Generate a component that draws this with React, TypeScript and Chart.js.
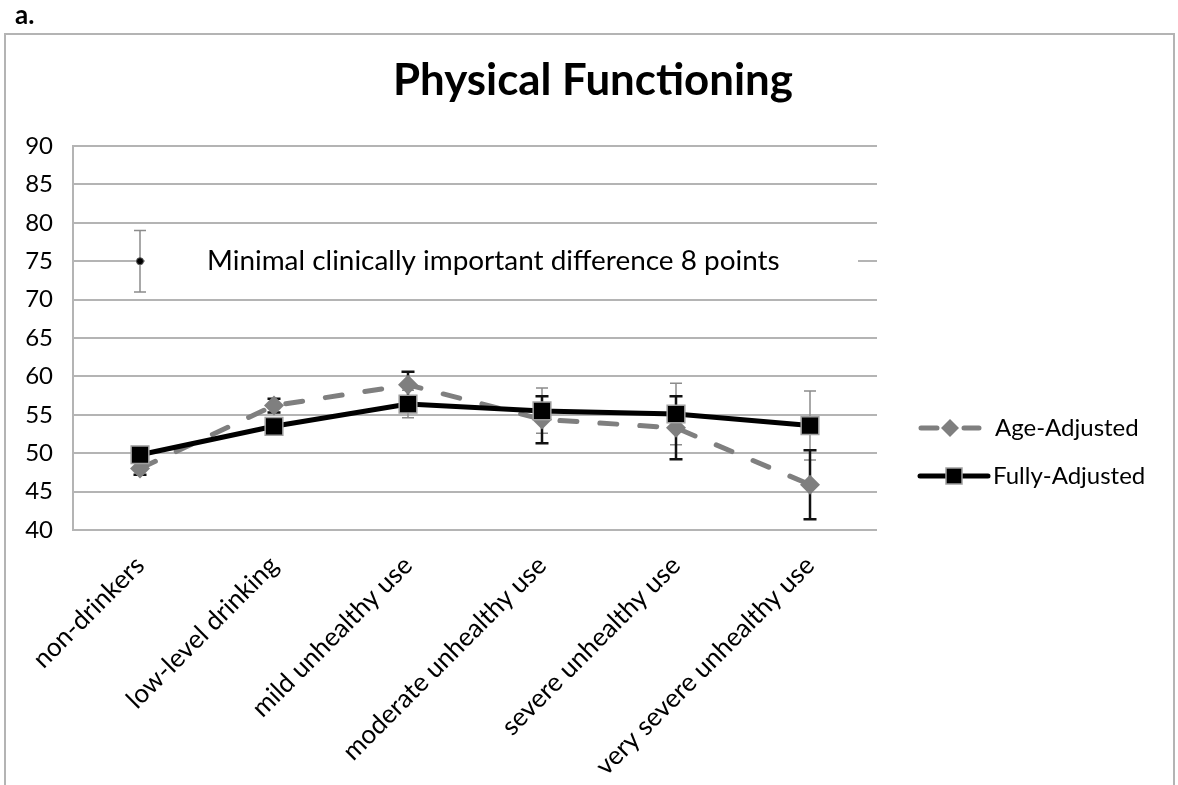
import React, { useEffect, useRef } from "react";
import { Chart, registerables } from "chart.js";

Chart.register(...registerables);

const categories = [
  "non-drinkers",
  "low-level drinking",
  "mild unhealthy use",
  "moderate unhealthy use",
  "severe unhealthy use",
  "very severe unhealthy use",
];

const ageAdjusted = [48.0, 56.2, 58.9, 54.4, 53.3, 45.9];
const ageLower = [47.2, 55.3, 57.2, 51.3, 49.2, 41.4];
const ageUpper = [48.8, 57.1, 60.6, 57.4, 57.4, 50.4];

const fullyAdjusted = [49.8, 53.5, 56.4, 55.5, 55.1, 53.6];
const fullLower = [49.0, 52.6, 54.6, 52.6, 51.1, 49.1];
const fullUpper = [50.6, 54.4, 58.2, 58.5, 59.1, 58.1];

const mcidValue = [75, null, null, null, null, null];
const mcidLower = [71, null, null, null, null, null];
const mcidUpper = [79, null, null, null, null, null];

const yTicks = [40, 45, 50, 55, 60, 65, 70, 75, 80, 85, 90];

const titleText = "Physical Functioning";
const panelLabel = "a.";
const mcidText = "Minimal clinically important difference 8 points";

const FONT = "Lato, 'Open Sans', sans-serif";
const GRID = "#b4b4b4";
const GRAY = "#7f7f7f";

function fitFont(ctx: CanvasRenderingContext2D, text: string, weight: string, width: number) {
  let size = 20;
  ctx.font = `${weight} ${size}px ${FONT}`;
  const w = ctx.measureText(text).width;
  size = (size * width) / w;
  ctx.font = `${weight} ${size}px ${FONT}`;
}

export default function App() {
  const ref = useRef<HTMLCanvasElement>(null);

  useEffect(() => {
    const canvas = ref.current!;

    const drawBars = (
      chart: any,
      lower: (number | null)[],
      upper: (number | null)[],
      color: string,
      width: number,
      cap: number
    ) => {
      const ctx = chart.ctx as CanvasRenderingContext2D;
      const xs = chart.scales.x;
      const ys = chart.scales.y;
      ctx.save();
      ctx.strokeStyle = color;
      ctx.lineWidth = width;
      ctx.lineCap = "butt";
      for (let i = 0; i < lower.length; i++) {
        const lo = lower[i];
        const hi = upper[i];
        if (lo == null || hi == null) continue;
        const x = xs.getPixelForValue(i);
        const y1 = ys.getPixelForValue(lo);
        const y2 = ys.getPixelForValue(hi);
        ctx.beginPath();
        ctx.moveTo(x, y1);
        ctx.lineTo(x, y2);
        ctx.moveTo(x - cap, y1);
        ctx.lineTo(x + cap, y1);
        ctx.moveTo(x - cap, y2);
        ctx.lineTo(x + cap, y2);
        ctx.stroke();
      }
      ctx.restore();
    };

    const plugin = {
      id: "custom",
      beforeDraw(chart: any) {
        const ctx = chart.ctx as CanvasRenderingContext2D;
        ctx.save();
        ctx.fillStyle = "#ffffff";
        ctx.fillRect(0, 0, chart.width, chart.height);
        ctx.strokeStyle = GRID;
        ctx.lineWidth = 2;
        ctx.strokeRect(5, 34, 1169, 800);
        ctx.fillStyle = "#000";
        ctx.font = `bold 26px ${FONT}`;
        ctx.textAlign = "left";
        ctx.textBaseline = "alphabetic";
        ctx.fillText(panelLabel, 15, 24);
        fitFont(ctx, titleText, "bold", 400);
        ctx.textAlign = "center";
        ctx.fillText(titleText, 593, 95);
        ctx.restore();
      },
      beforeDatasetsDraw(chart: any) {
        const ctx = chart.ctx as CanvasRenderingContext2D;
        const ys = chart.scales.y;
        const xs = chart.scales.x;
        const yM = ys.getPixelForValue(75);
        const x0 = xs.getPixelForValue(0);
        ctx.save();
        ctx.fillStyle = "#ffffff";
        ctx.fillRect(x0 + 5, yM - 14, 858 - x0 - 5, 28);
        ctx.fillStyle = "#000";
        fitFont(ctx, mcidText, "normal", 573);
        ctx.textAlign = "left";
        ctx.textBaseline = "middle";
        ctx.fillText(mcidText, 207, yM);
        ctx.restore();
        drawBars(chart, mcidLower, mcidUpper, "#8c8c8c", 1.5, 6);
        drawBars(chart, fullLower, fullUpper, "#8c8c8c", 1.5, 6);
        drawBars(chart, ageLower, ageUpper, "#111111", 2.5, 6.5);
      },
      afterDraw(chart: any) {
        const ctx = chart.ctx as CanvasRenderingContext2D;
        ctx.save();
        const y1 = 428;
        ctx.strokeStyle = GRAY;
        ctx.lineWidth = 5;
        ctx.lineCap = "round";
        ctx.beginPath();
        ctx.moveTo(921, y1);
        ctx.lineTo(937, y1);
        ctx.moveTo(964, y1);
        ctx.lineTo(979, y1);
        ctx.stroke();
        ctx.fillStyle = GRAY;
        ctx.beginPath();
        ctx.moveTo(950 - 9, y1);
        ctx.lineTo(950, y1 - 9);
        ctx.lineTo(950 + 9, y1);
        ctx.lineTo(950, y1 + 9);
        ctx.closePath();
        ctx.fill();
        const y2 = 476;
        ctx.strokeStyle = "#000";
        ctx.lineWidth = 5;
        ctx.beginPath();
        ctx.moveTo(920, y2);
        ctx.lineTo(988, y2);
        ctx.stroke();
        ctx.fillStyle = "#000";
        ctx.fillRect(946, y2 - 8, 16, 16);
        ctx.strokeStyle = "#a0a0a0";
        ctx.lineWidth = 1.5;
        ctx.strokeRect(946, y2 - 8, 16, 16);
        ctx.fillStyle = "#000";
        ctx.font = `24px ${FONT}`;
        ctx.textAlign = "left";
        ctx.textBaseline = "middle";
        ctx.fillText("Age-Adjusted", 995, y1);
        ctx.fillText("Fully-Adjusted", 993, y2);
        ctx.restore();
      },
    };

    const chart = new Chart(canvas, {
      type: "line",
      data: {
        labels: categories,
        datasets: [
          {
            label: "Fully-Adjusted",
            data: fullyAdjusted,
            borderColor: "#000000",
            borderWidth: 5,
            pointStyle: "rect",
            pointRadius: 12.5,
            pointBackgroundColor: "#000000",
            pointBorderColor: "#a0a0a0",
            pointBorderWidth: 1.5,
            tension: 0,
            order: 0,
          },
          {
            label: "Age-Adjusted",
            data: ageAdjusted,
            borderColor: GRAY,
            borderWidth: 5,
            borderDash: [17, 23],
            borderCapStyle: "round",
            pointStyle: "rectRot",
            pointRadius: 10,
            pointBackgroundColor: GRAY,
            pointBorderColor: GRAY,
            pointBorderWidth: 0,
            tension: 0,
            order: 1,
          },
          {
            label: "MCID",
            data: mcidValue,
            showLine: false,
            pointStyle: "circle",
            pointRadius: 3.5,
            pointBackgroundColor: "#000000",
            pointBorderColor: "#555555",
            pointBorderWidth: 1,
            order: 2,
          },
        ] as any,
      },
      options: {
        responsive: false,
        animation: false,
        events: [],
        layout: { padding: { left: 0, right: 301, top: 146, bottom: 0 } },
        plugins: {
          legend: { display: false },
          title: { display: false },
          tooltip: { enabled: false },
        },
        scales: {
          x: {
            offset: true,
            grid: { display: false, offset: true },
            border: { display: false },
            ticks: {
              autoSkip: false,
              maxRotation: 45,
              minRotation: 45,
              color: "#000",
              font: { family: FONT, size: 26 },
              padding: 12,
            },
            afterFit: (s: any) => {
              s.height = 255;
            },
          },
          y: {
            min: 40,
            max: 90,
            afterBuildTicks: (s: any) => {
              s.ticks = yTicks.map((v) => ({ value: v }));
            },
            ticks: {
              color: "#000",
              font: { family: FONT, size: 24 },
              padding: 20,
            },
            grid: { color: GRID, lineWidth: 2, drawTicks: false },
            border: { display: true, color: GRID, width: 2 },
            afterFit: (s: any) => {
              s.width = 73;
            },
          },
        },
      } as any,
      plugins: [plugin],
    });

    return () => chart.destroy();
  }, []);

  return (
    <div style={{ position: "absolute", left: 0, top: 0, width: 1178, height: 785, background: "#fff" }}>
      <canvas ref={ref} width={1178} height={785} style={{ display: "block" }} />
    </div>
  );
}
